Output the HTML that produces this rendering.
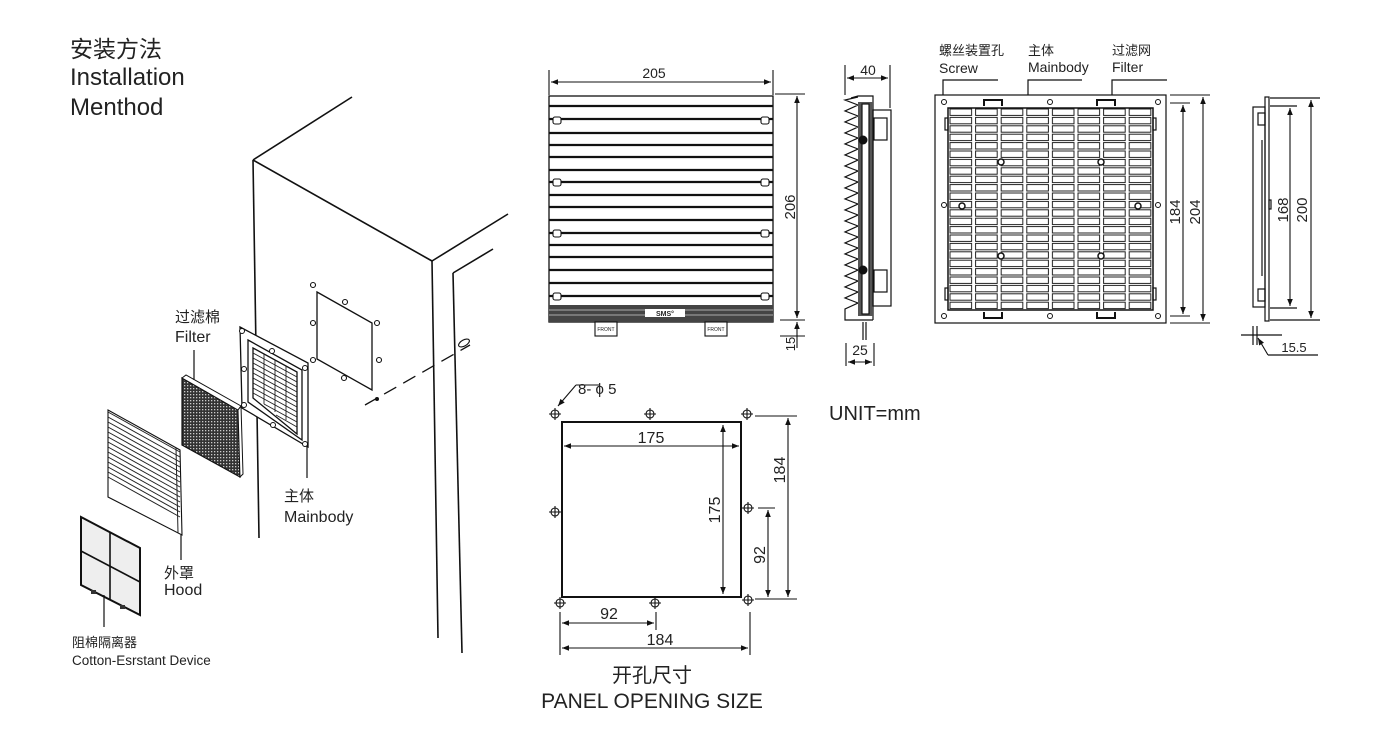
<!DOCTYPE html>
<html><head><meta charset="utf-8"><style>
html,body{margin:0;padding:0;background:#fff}
svg{display:block}
text{font-family:"Liberation Sans","Noto Sans CJK SC",sans-serif;fill:#222}
</style></head><body>
<svg width="1400" height="735" viewBox="0 0 1400 735" xmlns="http://www.w3.org/2000/svg">
<defs>
<marker id="a" viewBox="0 0 10 10" refX="10" refY="5" markerWidth="9" markerHeight="7" orient="auto-start-reverse" markerUnits="userSpaceOnUse"><path d="M0,1 L10,5 L0,9 z" fill="#111"/></marker>
<pattern id="grid" x="948" y="108" width="25.6" height="8.4" patternUnits="userSpaceOnUse"><rect x="2" y="1" width="21.6" height="6.4" fill="#fff" stroke="#222" stroke-width="1"/></pattern>
<pattern id="dots" width="3" height="3" patternUnits="userSpaceOnUse"><rect width="3" height="3" fill="#333"/><rect x="1" y="1" width="1.3" height="1.3" fill="#ccc"/></pattern>
</defs>

<!-- Title -->
<text x="70" y="57" font-size="23">安装方法</text>
<text x="70" y="85" font-size="24">Installation</text>
<text x="70" y="115" font-size="24">Menthod</text>

<!-- Cabinet -->
<g stroke="#111" stroke-width="1.6" fill="none">
<line x1="253" y1="160" x2="352" y2="97"/>
<line x1="253" y1="160" x2="432" y2="261"/>
<line x1="432" y1="261" x2="508" y2="214"/>
<line x1="453" y1="273" x2="493" y2="249"/>
<line x1="253" y1="160" x2="259" y2="538"/>
<line x1="432" y1="261" x2="438" y2="638"/>
<line x1="453" y1="273" x2="462" y2="653"/>
<polygon points="317,292 372,323 372,390 317,359" stroke-width="1.3"/>
<g stroke-width="1.1"><circle cx="313" cy="285" r="2.5"/><circle cx="345" cy="302" r="2.5"/><circle cx="313" cy="323" r="2.5"/><circle cx="377" cy="323" r="2.5"/><circle cx="379" cy="360" r="2.5"/><circle cx="313" cy="360" r="2.5"/><circle cx="344" cy="378" r="2.5"/></g>
<line x1="365" y1="405" x2="470" y2="345" stroke-dasharray="14,8" stroke-width="1.3"/>
<ellipse cx="464" cy="343" rx="6" ry="3" transform="rotate(-30 464 343)" stroke-width="1.1"/>
</g>
<circle cx="377" cy="399" r="2" fill="#111"/>

<!-- Mainbody iso -->
<g stroke="#111" fill="none" stroke-width="1.3">
<polygon points="240,327 308,363 308,447 242,408" fill="#fff"/>
<polygon points="248,340 302,370 302,440 248,402"/>
<polygon points="253,348 297,372 297,434 253,398"/>
</g>
<g stroke="#222" stroke-width="0.9">
<line x1="253" y1="353" x2="297" y2="377"/><line x1="253" y1="358" x2="297" y2="382"/><line x1="253" y1="363" x2="297" y2="387"/><line x1="253" y1="368" x2="297" y2="392"/><line x1="253" y1="373" x2="297" y2="397"/><line x1="253" y1="378" x2="297" y2="402"/><line x1="253" y1="383" x2="297" y2="407"/><line x1="253" y1="388" x2="297" y2="412"/><line x1="253" y1="393" x2="297" y2="417"/><line x1="264" y1="404" x2="297" y2="422"/><line x1="276" y1="415" x2="297" y2="427"/>
<line x1="264" y1="354" x2="264" y2="404"/><line x1="275" y1="360" x2="275" y2="412"/><line x1="286" y1="366" x2="286" y2="420"/>
</g>
<g fill="#fff" stroke="#111" stroke-width="1"><circle cx="242" cy="331" r="2.5"/><circle cx="305" cy="368" r="2.5"/><circle cx="244" cy="369" r="2.5"/><circle cx="244" cy="405" r="2.5"/><circle cx="305" cy="444" r="2.5"/><circle cx="272" cy="351" r="2.5"/><circle cx="273" cy="425" r="2.5"/></g>

<!-- Filter iso -->
<polygon points="182,378 238,410 240,477 182,445" fill="url(#dots)" stroke="#111" stroke-width="1.2"/>
<polygon points="182,378 186,375 241,406 238,410" fill="#fff" stroke="#111" stroke-width="1"/>
<polygon points="238,410 241,406 243,474 240,477" fill="#fff" stroke="#111" stroke-width="1"/>

<!-- Hood iso -->
<polygon points="108,410 180,450 182,535 108,497" fill="#fff" stroke="#111" stroke-width="1.1"/>
<g stroke="#222" stroke-width="1" fill="none">
<path d="M108,412 L180,452 M108,417 L180,457 M108,422 L180,462 M108,427 L180,467 M108,432 L180,472 M108,437 L180,477 M108,442 L180,482 M108,447 L180,487 M108,452 L180,492 M108,457 L180,497 M108,462 L180,502 M108,467 L180,507 M108,472 L180,512 M108,477 L180,517"/>
<line x1="176" y1="448" x2="178" y2="533"/>
</g>

<!-- Cotton iso -->
<polygon points="81,517 140,548 140,615 81,585" fill="#eee" stroke="#111" stroke-width="2"/>
<line x1="110" y1="533" x2="110" y2="600" stroke="#111" stroke-width="1.6"/>
<line x1="81" y1="551" x2="140" y2="582" stroke="#111" stroke-width="1.6"/>
<rect x="91" y="590" width="5" height="4" fill="#333"/><rect x="120" y="605" width="5" height="4" fill="#333"/>

<g stroke="#111" stroke-width="1.2">
<line x1="194" y1="350" x2="194" y2="380"/>
<line x1="181" y1="535" x2="181" y2="560"/>
<line x1="307" y1="447" x2="307" y2="478"/>
<line x1="104" y1="595" x2="104" y2="627"/>
</g>
<text x="175" y="322" font-size="15">过滤棉</text>
<text x="175" y="342" font-size="16">Filter</text>
<text x="284" y="501" font-size="15">主体</text>
<text x="284" y="522" font-size="16">Mainbody</text>
<text x="164" y="578" font-size="15">外罩</text>
<text x="164" y="595" font-size="16">Hood</text>
<text x="72" y="647" font-size="13">阻棉隔离器</text>
<text x="72" y="665" font-size="13.5">Cotton-Esrstant Device</text>

<!-- Front view -->
<g stroke="#111" fill="none">
<rect x="549" y="96" width="224" height="226" stroke-width="1.3"/>
<g stroke-width="2.2">
<line x1="549" y1="106" x2="773" y2="106"/><line x1="549" y1="119" x2="773" y2="119"/><line x1="549" y1="133" x2="773" y2="133"/><line x1="549" y1="145" x2="773" y2="145"/><line x1="549" y1="157" x2="773" y2="157"/><line x1="549" y1="170" x2="773" y2="170"/><line x1="549" y1="182" x2="773" y2="182"/><line x1="549" y1="195" x2="773" y2="195"/><line x1="549" y1="207" x2="773" y2="207"/><line x1="549" y1="220" x2="773" y2="220"/><line x1="549" y1="233" x2="773" y2="233"/><line x1="549" y1="245" x2="773" y2="245"/><line x1="549" y1="257" x2="773" y2="257"/><line x1="549" y1="270" x2="773" y2="270"/><line x1="549" y1="283" x2="773" y2="283"/><line x1="549" y1="296" x2="773" y2="296"/>
</g>
</g>
<rect x="549" y="305" width="224" height="17" fill="#444"/>
<line x1="549" y1="310" x2="773" y2="310" stroke="#aaa"/><line x1="549" y1="315" x2="773" y2="315" stroke="#aaa"/>
<rect x="645" y="309" width="40" height="8" fill="#fff"/>
<text x="665" y="316" font-size="7" font-weight="bold" text-anchor="middle">SMS°</text>
<g fill="#fff" stroke="#111" stroke-width="1.1">
<rect x="553" y="117" width="8" height="7" rx="2"/><rect x="761" y="117" width="8" height="7" rx="2"/>
<rect x="553" y="179" width="8" height="7" rx="2"/><rect x="761" y="179" width="8" height="7" rx="2"/>
<rect x="553" y="230" width="8" height="7" rx="2"/><rect x="761" y="230" width="8" height="7" rx="2"/>
<rect x="553" y="293" width="8" height="7" rx="2"/><rect x="761" y="293" width="8" height="7" rx="2"/>
<rect x="595" y="322" width="22" height="14"/><rect x="705" y="322" width="22" height="14"/>
</g>
<text x="606" y="331" font-size="5" text-anchor="middle">FRONT</text><text x="716" y="331" font-size="5" text-anchor="middle">FRONT</text>
<g stroke="#111" stroke-width="1.1">
<line x1="549" y1="70" x2="549" y2="95"/><line x1="773" y1="70" x2="773" y2="95"/>
<line x1="551" y1="82" x2="771" y2="82" marker-start="url(#a)" marker-end="url(#a)"/>
<line x1="775" y1="94" x2="805" y2="94"/><line x1="780" y1="320" x2="805" y2="320"/>
<line x1="797" y1="96" x2="797" y2="318" marker-start="url(#a)" marker-end="url(#a)"/>
<line x1="797" y1="336" x2="797" y2="348"/><line x1="797" y1="336" x2="797" y2="322" marker-end="url(#a)"/>
<line x1="780" y1="336" x2="805" y2="336"/>
</g>
<text x="654" y="78" font-size="14" text-anchor="middle">205</text>
<text transform="translate(795,207) rotate(-90)" font-size="15" text-anchor="middle">206</text>
<text transform="translate(795,344) rotate(-90)" font-size="13" text-anchor="middle">15</text>

<!-- Side view -->
<g stroke="#111" fill="none" stroke-width="1.2">
<polyline points="858,97 845,100 858,105 845,111 858,116 845,122 858,127 845,133 858,138 845,144 858,149 845,155 858,160 845,166 858,171 845,177 858,182 845,188 858,193 845,199 858,204 845,210 858,215 845,221 858,226 845,232 858,237 845,243 858,248 845,254 858,259 845,265 858,270 845,276 858,281 845,287 858,292 845,298 858,303 845,309 845,320 873,320"/>
<polyline points="851,98 858,96 873,96 873,320"/>
<rect x="858" y="102" width="15" height="214" fill="#555" stroke="none"/>
<rect x="862" y="104" width="7" height="210" fill="#fff"/>
<rect x="873" y="110" width="18" height="196"/>
<rect x="874" y="118" width="13" height="22"/><rect x="874" y="270" width="13" height="22"/>
<line x1="863" y1="322" x2="863" y2="340"/><line x1="866" y1="322" x2="866" y2="340"/>
</g>
<circle cx="863" cy="140" r="4.5" fill="#111"/><circle cx="863" cy="270" r="4.5" fill="#111"/>
<g stroke="#111" stroke-width="1.1">
<line x1="845" y1="65" x2="845" y2="95"/><line x1="890" y1="65" x2="890" y2="108"/>
<line x1="847" y1="78" x2="888" y2="78" marker-start="url(#a)" marker-end="url(#a)"/>
<line x1="846" y1="343" x2="846" y2="366"/><line x1="874" y1="343" x2="874" y2="366"/>
<line x1="848" y1="362" x2="872" y2="362" marker-start="url(#a)" marker-end="url(#a)"/>
</g>
<text x="868" y="75" font-size="14" text-anchor="middle">40</text>
<text x="860" y="355" font-size="14" text-anchor="middle">25</text>

<!-- Screw view -->
<text x="939" y="55" font-size="13">螺丝装置孔</text><text x="939" y="73" font-size="14">Screw</text>
<text x="1028" y="55" font-size="13">主体</text><text x="1028" y="72" font-size="14">Mainbody</text>
<text x="1112" y="55" font-size="13">过滤网</text><text x="1112" y="72" font-size="14">Filter</text>
<g stroke="#111" fill="none" stroke-width="1.2">
<polyline points="943,95 943,80 998,80"/><polyline points="1028,95 1028,80 1082,80"/><polyline points="1112,95 1112,80 1167,80"/>
<rect x="935" y="95" width="231" height="228"/>
<rect x="948" y="108" width="205" height="202" fill="url(#grid)" stroke-width="1.5"/>
<path d="M984,106 V100 H1002 V106 M1097,106 V100 H1115 V106 M984,312 V318 H1002 V312 M1097,312 V318 H1115 V312" stroke-width="2"/>
<g stroke-width="1"><circle cx="944" cy="102" r="2.5"/><circle cx="1050" cy="102" r="2.5"/><circle cx="1158" cy="102" r="2.5"/><circle cx="944" cy="205" r="2.5"/><circle cx="1158" cy="205" r="2.5"/><circle cx="944" cy="316" r="2.5"/><circle cx="1050" cy="316" r="2.5"/><circle cx="1158" cy="316" r="2.5"/></g>
<rect x="945" y="118" width="3" height="12"/><rect x="1153" y="118" width="3" height="12"/><rect x="945" y="288" width="3" height="12"/><rect x="1153" y="288" width="3" height="12"/>
</g>
<g fill="#fff" stroke="#111" stroke-width="1.5"><circle cx="1001" cy="162" r="3"/><circle cx="1101" cy="162" r="3"/><circle cx="1001" cy="256" r="3"/><circle cx="1101" cy="256" r="3"/><circle cx="962" cy="206" r="3"/><circle cx="1138" cy="206" r="3"/></g>
<g stroke="#111" stroke-width="1.1">
<line x1="1170" y1="95" x2="1210" y2="95"/><line x1="1170" y1="103" x2="1190" y2="103"/><line x1="1170" y1="316" x2="1190" y2="316"/><line x1="1170" y1="323" x2="1210" y2="323"/>
<line x1="1183" y1="105" x2="1183" y2="314" marker-start="url(#a)" marker-end="url(#a)"/>
<line x1="1203" y1="97" x2="1203" y2="321" marker-start="url(#a)" marker-end="url(#a)"/>
</g>
<text transform="translate(1180,212) rotate(-90)" font-size="15" text-anchor="middle">184</text>
<text transform="translate(1200,212) rotate(-90)" font-size="15" text-anchor="middle">204</text>

<!-- Right side view -->
<g stroke="#111" fill="none" stroke-width="1.2">
<rect x="1265" y="97" width="4" height="224"/>
<rect x="1253" y="107" width="12" height="200"/>
<rect x="1258" y="113" width="7" height="12"/><rect x="1258" y="289" width="7" height="12"/>
<line x1="1262" y1="140" x2="1262" y2="276"/>
<rect x="1269" y="200" width="2" height="9"/>
<line x1="1270" y1="98" x2="1320" y2="98"/><line x1="1270" y1="106" x2="1297" y2="106"/><line x1="1270" y1="308" x2="1297" y2="308"/><line x1="1270" y1="320" x2="1320" y2="320"/>
<line x1="1253" y1="326" x2="1253" y2="345"/><line x1="1257" y1="326" x2="1257" y2="345"/>
<line x1="1241" y1="335" x2="1282" y2="335"/>
<polyline points="1268,355 1318,355"/>
</g>
<g stroke="#111" stroke-width="1.1">
<line x1="1290" y1="108" x2="1290" y2="306" marker-start="url(#a)" marker-end="url(#a)"/>
<line x1="1311" y1="100" x2="1311" y2="318" marker-start="url(#a)" marker-end="url(#a)"/>
<line x1="1268" y1="355" x2="1258" y2="338" marker-end="url(#a)"/>
</g>
<text transform="translate(1288,210) rotate(-90)" font-size="15" text-anchor="middle">168</text>
<text transform="translate(1307,210) rotate(-90)" font-size="15" text-anchor="middle">200</text>
<text x="1294" y="352" font-size="13" text-anchor="middle">15.5</text>

<text x="829" y="420" font-size="20">UNIT=mm</text>

<!-- Panel opening -->
<rect x="562" y="422" width="179" height="175" fill="none" stroke="#111" stroke-width="2"/>
<g stroke="#111" stroke-width="1.1" fill="none">
<circle cx="555" cy="414" r="4"/><path d="M549,414 H561 M555,408 V420"/>
<circle cx="650" cy="414" r="4"/><path d="M644,414 H656 M650,408 V420"/>
<circle cx="747" cy="414" r="4"/><path d="M741,414 H753 M747,408 V420"/>
<circle cx="555" cy="512" r="4"/><path d="M549,512 H561 M555,506 V518"/>
<circle cx="748" cy="508" r="4"/><path d="M742,508 H754 M748,502 V514"/>
<circle cx="560" cy="603" r="4"/><path d="M554,603 H566 M560,597 V609"/>
<circle cx="655" cy="603" r="4"/><path d="M649,603 H661 M655,597 V609"/>
<circle cx="748" cy="600" r="4"/><path d="M742,600 H754 M748,594 V606"/>
<line x1="576" y1="385" x2="558" y2="406" marker-end="url(#a)"/>
<line x1="576" y1="385" x2="600" y2="385"/>
<line x1="564" y1="446" x2="739" y2="446" marker-start="url(#a)" marker-end="url(#a)"/>
<line x1="723" y1="425" x2="723" y2="594" marker-start="url(#a)" marker-end="url(#a)"/>
<line x1="755" y1="416" x2="797" y2="416"/><line x1="755" y1="599" x2="797" y2="599"/>
<line x1="788" y1="418" x2="788" y2="597" marker-start="url(#a)" marker-end="url(#a)"/>
<line x1="758" y1="508" x2="775" y2="508"/>
<line x1="768" y1="510" x2="768" y2="597" marker-start="url(#a)" marker-end="url(#a)"/>
<line x1="560" y1="612" x2="560" y2="655"/><line x1="656" y1="612" x2="656" y2="630"/><line x1="750" y1="612" x2="750" y2="655"/>
<line x1="562" y1="623" x2="654" y2="623" marker-start="url(#a)" marker-end="url(#a)"/>
<line x1="562" y1="648" x2="748" y2="648" marker-start="url(#a)" marker-end="url(#a)"/>
</g>
<text x="578" y="394" font-size="15">8- ϕ 5</text>
<text x="651" y="443" font-size="16" text-anchor="middle">175</text>
<text transform="translate(720,510) rotate(-90)" font-size="16" text-anchor="middle">175</text>
<text transform="translate(785,470) rotate(-90)" font-size="16" text-anchor="middle">184</text>
<text transform="translate(765,555) rotate(-90)" font-size="16" text-anchor="middle">92</text>
<text x="609" y="619" font-size="16" text-anchor="middle">92</text>
<text x="660" y="645" font-size="16" text-anchor="middle">184</text>
<text x="652" y="682" font-size="20" text-anchor="middle">开孔尺寸</text>
<text x="652" y="708" font-size="21" text-anchor="middle">PANEL OPENING SIZE</text>
</svg>
</body></html>
